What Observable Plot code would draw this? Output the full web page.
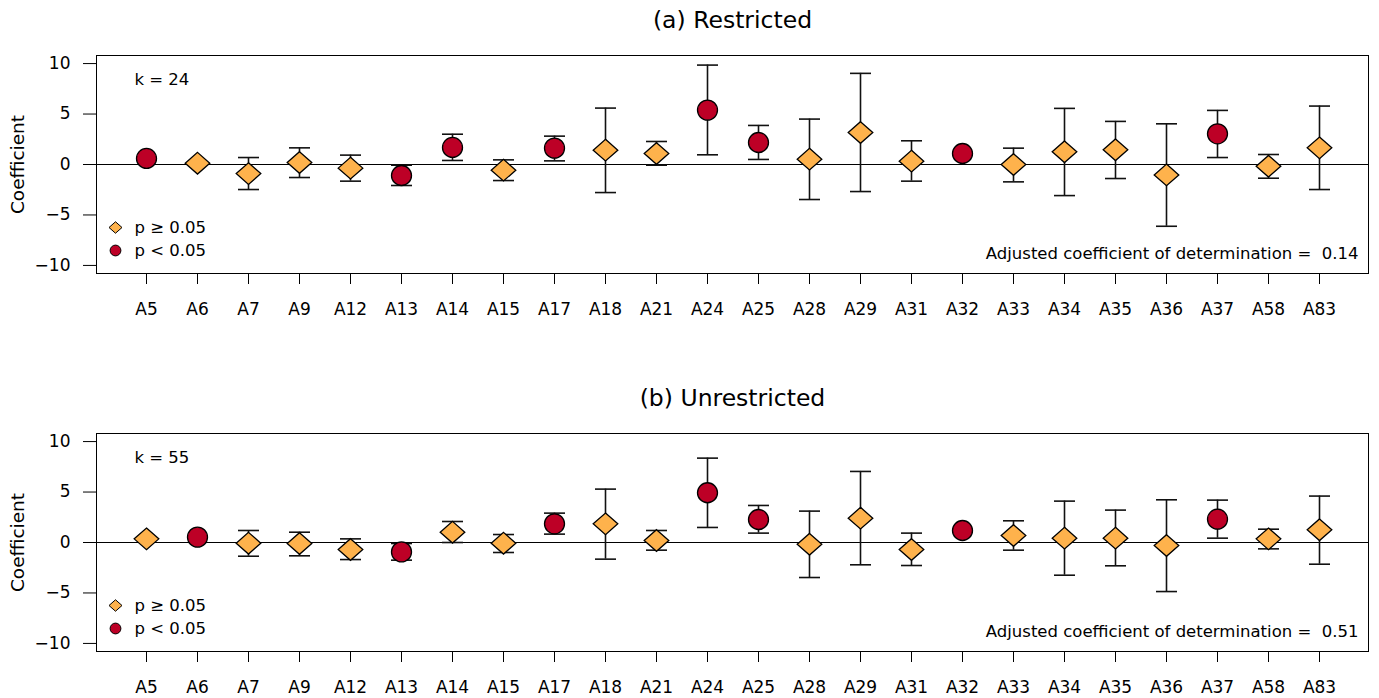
<!DOCTYPE html>
<html>
<head>
<meta charset="utf-8">
<script src="https://cdn.jsdelivr.net/npm/d3@7"></script>
<script src="https://cdn.jsdelivr.net/npm/@observablehq/plot@0.6"></script>
<style>
  html, body { margin: 0; padding: 0; background: #fff; }
  #chart svg { display: block; }
</style>
</head>
<body>
<div id="chart"></div>
<script>
// ---- data ----
const categories = ["A5","A6","A7","A9","A12","A13","A14","A15","A17","A18","A21","A24","A25","A28","A29","A31","A32","A33","A34","A35","A36","A37","A58","A83"];

const restrictedEst = [0.6,0.13,-0.9,0.2,-0.36,-1.09,1.69,-0.56,1.62,1.42,1.09,5.39,2.18,0.53,3.17,0.33,1.09,0.0,1.26,1.46,-1.03,3.04,-0.17,1.65];
const restrictedLo  = [null,null,-2.48,-1.29,-1.65,-2.08,0.4,-1.59,0.36,-2.78,-0.07,0.96,0.5,-3.47,-2.68,-1.65,null,-1.72,-3.08,-1.39,-6.12,0.69,-1.36,-2.48];
const restrictedHi  = [null,null,0.69,1.65,0.93,-0.07,3.0,0.46,2.81,5.59,2.28,9.85,3.87,4.5,9.03,2.35,null,1.62,5.56,4.27,4.03,5.36,0.99,5.79];
const restrictedSig = [1,0,0,0,0,1,1,0,1,0,0,1,1,0,0,0,1,0,0,0,0,1,0,0];

const unrestrictedEst = [0.36,0.53,-0.07,-0.1,-0.69,-0.93,1.02,-0.07,1.85,1.85,0.2,4.93,2.28,-0.17,2.41,-0.69,1.19,0.69,0.43,0.43,-0.3,2.31,0.36,1.26];
const unrestrictedLo  = [null,null,-1.36,-1.32,-1.69,-1.75,0.0,-0.99,0.83,-1.65,-0.76,1.49,0.93,-3.47,-2.21,-2.28,null,-0.76,-3.24,-2.31,-4.86,0.43,-0.63,-2.15];
const unrestrictedHi  = [null,null,1.19,1.02,0.36,-0.1,2.08,0.79,2.91,5.29,1.19,8.36,3.67,3.11,7.04,0.93,null,2.15,4.1,3.21,4.23,4.2,1.32,4.6];
const unrestrictedSig = [0,1,0,0,0,1,0,0,1,0,0,1,1,0,0,0,1,0,0,0,0,1,0,0];

const yTicks = [-10, -5, 0, 5, 10];
const legendLabels = ["p \u2265 0.05", "p < 0.05"];
const panelTitles = ["(a) Restricted", "(b) Unrestricted"];
const kLabels = ["k = 24", "k = 55"];
const r2Labels = ["Adjusted coefficient of determination =  0.14", "Adjusted coefficient of determination =  0.51"];

// ---- styling ----
const ORANGE = "#FEB24C";
const RED = "#BD0026";
const FONT = "DejaVu Sans";

const capSymbol = {
  draw(ctx, size) {
    const r = Math.sqrt(size / Math.PI);
    ctx.moveTo(-r, 0);
    ctx.lineTo(r, 0);
  }
};
const diamondSymbol = {
  draw(ctx, size) {
    const r = Math.sqrt(size / Math.PI);
    const ry = r * 0.88;
    ctx.moveTo(0, -ry);
    ctx.lineTo(r, 0);
    ctx.lineTo(0, ry);
    ctx.lineTo(-r, 0);
    ctx.closePath();
  }
};

function panel(i, est, lo, hi, sig, height, marginTop, marginBottom) {
  const rows = categories.map((c, j) => ({cat: c, est: est[j], lo: lo[j], hi: hi[j], sig: sig[j] === 1}));
  const bars = rows.filter(d => d.lo != null && d.hi != null);
  return Plot.plot({
    width: 1379,
    height,
    marginTop,
    marginBottom,
    marginLeft: 96,
    marginRight: 11,
    style: {fontFamily: FONT, fontSize: "17px", background: "#fff", color: "#000"},
    x: {type: "point", domain: categories, padding: 0.92},
    y: {domain: [-10.8, 10.8]},
    marks: [
      Plot.ruleY([0], {stroke: "#000", strokeWidth: 1}),
      Plot.ruleX(bars, {x: "cat", y1: "lo", y2: "hi", stroke: "#111", strokeWidth: 1.6}),
      Plot.dot(bars, {x: "cat", y: "lo", symbol: capSymbol, r: 10.5, fill: "none", stroke: "#111", strokeWidth: 1.6}),
      Plot.dot(bars, {x: "cat", y: "hi", symbol: capSymbol, r: 10.5, fill: "none", stroke: "#111", strokeWidth: 1.6}),
      Plot.dot(rows.filter(d => !d.sig), {x: "cat", y: "est", symbol: diamondSymbol, r: 12.3, fill: ORANGE, stroke: "#000", strokeWidth: 1.3}),
      Plot.dot(rows.filter(d => d.sig), {x: "cat", y: "est", symbol: "circle", r: 10, fill: RED, stroke: "#000", strokeWidth: 1.3}),
      Plot.frame({stroke: "#000", strokeWidth: 1}),
      Plot.axisY({ticks: yTicks, tickSize: 13, tickPadding: 13, label: null, fontSize: 17, tickFormat: d => d < 0 ? "\u2212" + Math.abs(d) : String(d)}),
      Plot.axisX({tickSize: 11, tickPadding: 18, label: null, fontSize: 17}),
      Plot.text([panelTitles[i]], {frameAnchor: "top", dy: -35, textAnchor: "middle", lineAnchor: "middle", fontSize: 23.5}),
      Plot.text(["Coefficient"], {frameAnchor: "left", dx: -78, rotate: -90, textAnchor: "middle", lineAnchor: "middle", fontSize: 18.5}),
      Plot.text([kLabels[i]], {frameAnchor: "top-left", dx: 38, dy: 24, textAnchor: "start", lineAnchor: "middle", fontSize: 16.5}),
      Plot.text([r2Labels[i]], {frameAnchor: "bottom-right", dx: -10, dy: -20, textAnchor: "end", lineAnchor: "middle", fontSize: 16.5}),
      Plot.dot([legendLabels[0]], {frameAnchor: "top-left", dx: 19, dy: 172, symbol: diamondSymbol, r: 6.5, fill: ORANGE, stroke: "#000", strokeWidth: 1}),
      Plot.dot([legendLabels[1]], {frameAnchor: "top-left", dx: 19, dy: 195, symbol: "circle", r: 5.4, fill: RED, stroke: "#000", strokeWidth: 1}),
      Plot.text([legendLabels[0]], {frameAnchor: "top-left", dx: 38, dy: 172, textAnchor: "start", lineAnchor: "middle", fontSize: 16.5}),
      Plot.text([legendLabels[1]], {frameAnchor: "top-left", dx: 38, dy: 195, textAnchor: "start", lineAnchor: "middle", fontSize: 16.5})
    ]
  });
}

const chart = document.getElementById("chart");
chart.appendChild(panel(0, restrictedEst, restrictedLo, restrictedHi, restrictedSig, 360, 55, 87));
chart.appendChild(panel(1, unrestrictedEst, unrestrictedLo, unrestrictedHi, unrestrictedSig, 338, 73, 47));
</script>
</body>
</html>
